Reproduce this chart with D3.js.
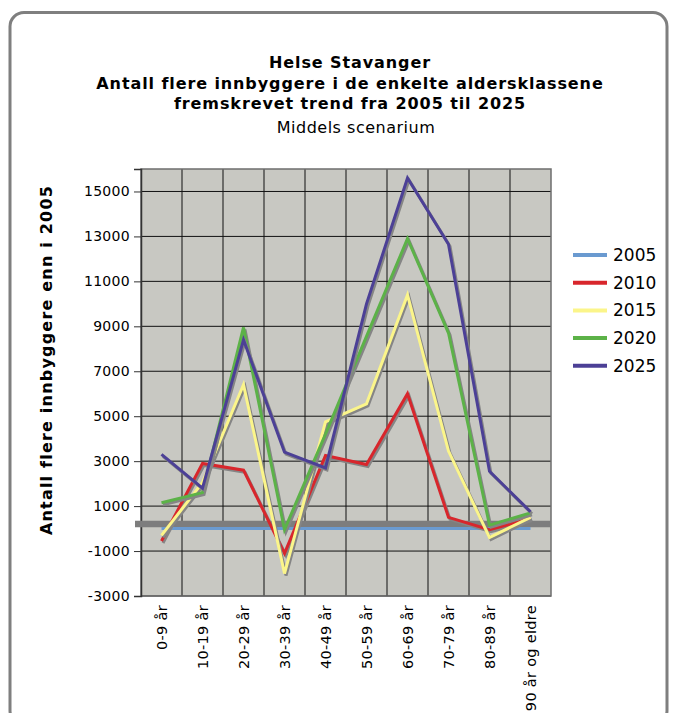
<!DOCTYPE html>
<html><head><meta charset="utf-8">
<script src="https://cdn.jsdelivr.net/npm/d3@7/dist/d3.min.js"></script>
<style>
body{margin:0;background:#fff;}
svg{display:block;font-family:"DejaVu Sans",Verdana,sans-serif;}
</style></head>
<body><svg id="c" width="673" height="713"></svg>
<script>
const categories = ["0-9 år","10-19 år","20-29 år","30-39 år","40-49 år","50-59 år","60-69 år","70-79 år","80-89 år","90 år og eldre"];
const seriesNames = ["2005","2010","2015","2020","2025"];
const s2005 = [0,0,0,0,0,0,0,0,0,0];
const s2010 = [-550,2900,2600,-1100,3250,2850,6000,500,-50,450];
const s2015 = [-300,2050,6400,-2000,4750,5550,10400,3450,-400,500];
const s2020 = [1150,1600,8950,-50,4200,8550,12900,8700,150,700];
const s2025 = [3300,1800,8400,3400,2700,10000,15600,12650,2550,750];
const yTicks = [-3000,-1000,1000,3000,5000,7000,9000,11000,13000,15000];
const colors = ["#6a9ad0","#d8262c","#fbf58a","#5cb248","#4c4096"];
const titleLines = ["Helse Stavanger","Antall flere innbyggere i de enkelte aldersklassene","fremskrevet trend fra 2005 til 2025"];
const subtitle = "Middels scenarium";
const yTitle = "Antall flere innbyggere enn i 2005";

const series = [s2005,s2010,s2015,s2020,s2025];
const svg = d3.select("#c");
const L=141,R=551,T=169,B=596;

// frame
svg.append("rect").attr("x",10).attr("y",12.5).attr("width",657).attr("height",712)
  .attr("rx",14).attr("fill","#fff").attr("stroke","#7f7f7f").attr("stroke-width",3);

// titles
titleLines.forEach((t,i)=>{
  svg.append("text").attr("x",350).attr("y",68+i*20.5).attr("text-anchor","middle")
   .attr("font-size",16).attr("font-weight","bold").attr("letter-spacing",0.9).attr("fill","#000").text(t);
});
svg.append("text").attr("x",356).attr("y",133).attr("text-anchor","middle")
  .attr("font-size",16).attr("letter-spacing",0.5).attr("fill","#000").text(subtitle);

const x = d3.scaleBand().domain(categories).range([L,R]).padding(0);
const y = d3.scaleLinear().domain([-3000,16000]).range([B,T]);

// plot bg
svg.append("rect").attr("x",L).attr("y",T).attr("width",R-L).attr("height",B-T).attr("fill","#c8c8c2");

// grid
const g = svg.append("g");
g.selectAll("line.h").data(yTicks).join("line")
  .attr("x1",L).attr("x2",R).attr("y1",d=>y(d)).attr("y2",d=>y(d))
  .attr("stroke","#111").attr("stroke-width",1);
g.selectAll("line.v").data(categories.slice(1)).join("line")
  .attr("x1",d=>x(d)).attr("x2",d=>x(d)).attr("y1",T).attr("y2",B)
  .attr("stroke","#111").attr("stroke-width",1);
svg.append("rect").attr("x",L).attr("y",T).attr("width",R-L).attr("height",B-T)
  .attr("fill","none").attr("stroke","#6e6e6e").attr("stroke-width",1.5);

// y axis
const yAxis = d3.axisLeft(y).tickValues(yTicks).tickSize(7).tickPadding(4).tickFormat(d=>String(d));
const ya = svg.append("g").attr("transform",`translate(${L},0)`).call(yAxis);
ya.select(".domain").attr("stroke","#333").attr("stroke-width",1.5);
ya.selectAll(".tick line").attr("stroke","#333");
ya.selectAll(".tick text").attr("font-size",14).attr("fill","#000").attr("font-family","DejaVu Sans").attr("letter-spacing",0.3);

// category axis thick gray at zero
svg.append("line").attr("x1",L-6).attr("x2",R).attr("y1",y(0)-4.5).attr("y2",y(0)-4.5)
  .attr("stroke","#7d7d7d").attr("stroke-width",6.5);

// x labels
svg.selectAll("text.xl").data(categories).join("text")
  .attr("transform",d=>`translate(${x(d)+x.bandwidth()/2+5},${B+9}) rotate(-90)`)
  .attr("text-anchor","end").attr("font-size",14.5).attr("letter-spacing",0.3).attr("fill","#000").text(d=>d);

// y title
svg.append("text").attr("transform","translate(52,360) rotate(-90)").attr("text-anchor","middle")
  .attr("font-size",16).attr("font-weight","bold").attr("letter-spacing",1.2).attr("fill","#000").text(yTitle);

// lines
const line = d3.line().x((d,i)=>x(categories[i])+x.bandwidth()/2).y(d=>y(d));
series.forEach((s,i)=>{
  if(i>0){
    svg.append("path").attr("d",line(s)).attr("transform","translate(1.5,2)")
      .attr("fill","none").attr("stroke","#858585").attr("stroke-width",3).attr("stroke-linejoin","miter");
  }
  svg.append("path").attr("d",line(s)).attr("fill","none").attr("stroke",colors[i])
    .attr("stroke-width",3).attr("stroke-linejoin","miter");
});

// legend
const lg = svg.append("g");
seriesNames.forEach((n,i)=>{
  const yy = 255 + i*27.7;
  lg.append("line").attr("x1",573).attr("x2",607).attr("y1",yy).attr("y2",yy)
    .attr("stroke",colors[i]).attr("stroke-width",4);
  lg.append("text").attr("x",613).attr("y",yy+6).attr("font-size",17).attr("fill","#000").text(n);
});
</script></body></html>
